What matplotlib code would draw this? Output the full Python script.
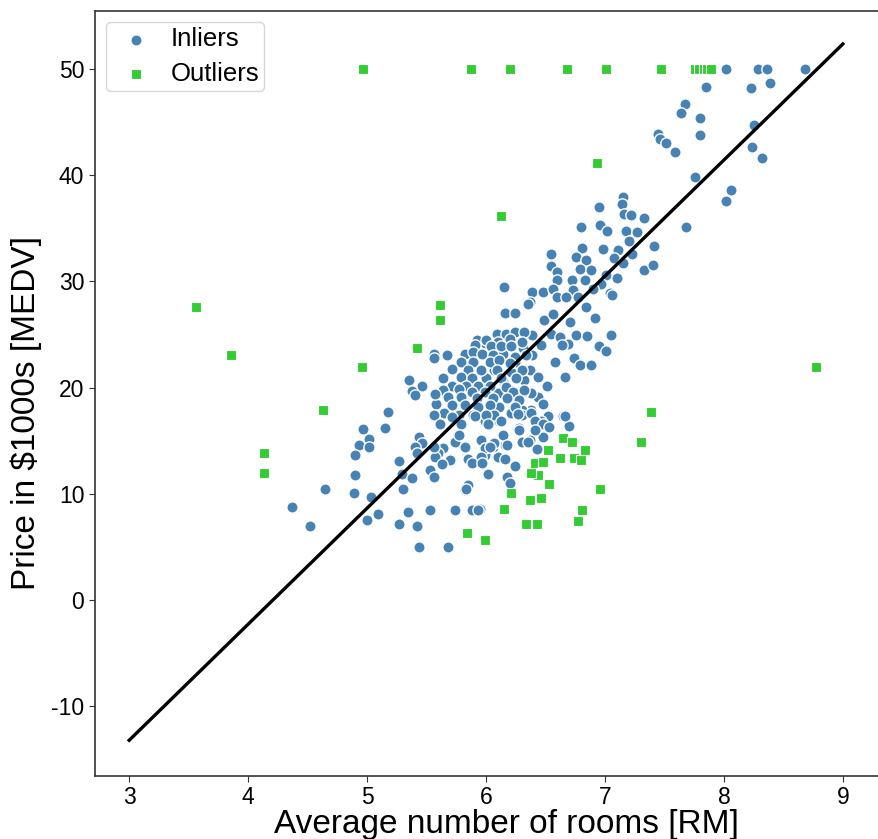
import numpy as np
import matplotlib.pyplot as plt

plt.rcParams['font.family'] = ['Liberation Sans', 'DejaVu Sans']
plt.rcParams['axes.unicode_minus'] = False

# inliers (RM, MEDV)
inlier_rm = [
    8.02, 8.29, 8.36, 8.68, 7.85, 8.23, 8.39, 7.67, 7.64, 7.80, 7.80, 8.25, 7.45, 7.46, 7.51, 7.59, 8.24, 8.32, 7.76, 8.06, 8.02,
    7.15, 7.14, 6.95, 7.16, 7.22, 7.33, 7.68, 6.80, 6.96, 7.02, 7.18, 7.27, 7.20, 6.81, 6.98, 7.11, 7.23, 7.41, 6.55, 6.76,
    6.84, 7.08, 7.15, 6.55, 6.60, 6.79, 6.88, 7.33, 7.40, 6.72, 6.83, 6.60, 7.01, 7.10, 6.97, 6.15, 6.39, 6.48, 6.56, 6.73,
    6.90, 7.04, 7.06, 6.37, 6.60, 6.67, 6.77, 6.84, 6.16, 6.24, 6.49, 6.56, 6.71, 6.92, 6.76, 6.85, 7.05, 6.39, 6.55, 6.62,
    6.69, 6.95, 7.01, 6.64, 6.46, 6.74, 6.79, 6.88, 6.58, 6.66, 6.51, 6.44, 6.38, 6.31, 6.21, 6.38, 6.48, 6.52, 6.46, 6.65,
    6.70, 6.28, 6.37, 6.48, 6.43, 6.16, 6.24, 6.18, 6.02, 5.99, 6.10, 5.96, 6.06, 6.14, 6.11, 5.99, 6.21, 6.30, 6.11, 6.21,
    6.10, 5.99, 6.32, 6.14, 6.21, 6.37, 6.07, 6.00, 6.24, 6.39, 6.31, 6.10, 5.99, 6.14, 6.21, 6.09, 5.95, 6.44,
    6.35, 6.17, 6.24, 6.32, 5.92, 6.00, 6.10, 6.20, 6.30, 5.91, 6.04, 6.13, 6.21, 5.56, 5.56, 5.67, 5.82, 5.89, 5.97, 6.06,
    6.24, 6.34, 5.79, 5.89, 6.03, 6.11, 6.20, 5.71, 5.85, 5.96, 6.09, 6.30, 5.64, 5.79, 5.88, 6.13, 6.25, 5.71, 5.83, 5.93,
    6.03, 6.17, 5.46, 5.64, 5.77, 5.88, 5.99, 6.23, 6.32, 5.68, 5.79, 5.92, 6.06, 6.18, 6.28, 5.58, 5.71, 5.82, 5.93, 6.03,
    6.24, 5.65, 5.77, 5.89, 6.07, 6.30,
    5.56, 5.71, 5.61, 5.79, 5.91, 6.00, 6.13, 6.02, 6.27, 6.38, 6.41, 6.48, 6.53, 6.66, 6.28, 6.41, 6.07, 6.18, 6.30, 6.35,
    5.74, 5.77, 5.44, 5.46, 5.64, 5.82, 5.99, 6.03, 5.60, 5.57, 5.70, 5.85, 5.96, 6.16, 5.88, 5.97, 5.63, 5.53, 5.56, 6.20,
    5.85, 5.82,
    5.35, 5.38, 5.40, 5.57, 5.18, 4.97, 5.15, 5.02, 4.93, 5.02, 5.40, 4.90, 5.42, 5.56, 5.27, 4.90, 5.29, 5.38, 4.65, 4.89,
    5.30, 5.03, 4.37, 5.53, 5.34, 5.09, 5.00, 5.27, 5.42, 4.52, 5.44, 5.68, 5.74, 5.88, 5.93, 5.83,
]
inlier_medv = [
    50.0, 50.0, 50.0, 50.0, 48.3, 48.2, 48.7, 46.7, 45.9, 45.4, 43.8, 44.7, 43.9, 43.4, 43.0, 42.2, 42.7, 41.6, 39.8, 38.6, 37.6,
    38.0, 37.3, 37.0, 36.4, 36.3, 36.0, 35.1, 35.1, 35.3, 34.8, 34.8, 34.7, 33.8, 33.2, 33.1, 33.0, 32.6, 33.3, 32.6, 32.3,
    32.0, 32.2, 31.7, 31.5, 30.9, 31.2, 31.1, 31.1, 31.6, 30.1, 30.1, 30.1, 30.6, 30.3, 29.8, 29.5, 29.0, 29.0, 29.3, 29.2,
    29.3, 28.9, 28.7, 28.1, 28.5, 28.5, 28.5, 27.6, 27.0, 27.0, 26.4, 26.9, 26.2, 26.6, 25.0, 24.9, 25.0, 25.0, 25.1, 24.8,
    24.1, 23.9, 23.5, 24.0, 24.0, 22.8, 22.1, 22.1, 22.4, 21.0, 20.2, 19.1, 19.5, 19.6, 19.8, 17.9, 18.5, 17.3, 16.9, 17.3,
    16.4, 16.2, 15.1, 15.4, 14.2, 14.6, 12.6, 11.6, 11.9, 13.7, 13.5, 15.1, 14.4, 15.5, 16.9, 16.9, 17.6, 17.9, 18.2, 19.1,
    19.5, 20.1, 20.7, 20.6, 21.5, 21.7, 21.7, 20.9, 22.4, 23.1, 23.7, 24.2, 24.2, 23.2, 24.8, 25.1, 8.6, 21.0,
    27.9, 25.1, 25.2, 25.2, 24.5, 24.5, 24.3, 24.6, 24.3, 24.0, 23.9, 23.9, 23.9, 23.2, 22.8, 23.1, 23.2, 23.4, 23.2, 23.1,
    22.9, 23.1, 22.4, 22.4, 22.4, 22.6, 22.3, 21.8, 21.7, 21.7, 21.7, 21.7, 20.9, 21.0, 20.9, 20.9, 20.9, 20.2, 20.2, 20.2,
    20.2, 20.1, 20.2, 19.8, 19.9, 19.6, 19.6, 19.6, 19.8, 19.1, 19.1, 19.0, 19.0, 19.0, 18.8, 18.5, 18.4, 18.4, 18.2, 18.4,
    18.2, 17.6, 17.4, 17.4, 17.4, 17.4,
    17.4, 17.2, 16.6, 16.6, 17.3, 17.4, 16.9, 16.6, 17.5, 17.6, 16.9, 16.6, 16.3, 17.3, 16.0, 16.0, 14.8, 14.6, 14.9, 14.9,
    14.9, 15.5, 15.4, 14.8, 14.3, 14.4, 14.3, 14.4, 13.8, 13.5, 13.2, 13.3, 13.5, 13.3, 12.9, 12.9, 12.8, 12.2, 11.6, 11.0,
    10.8, 10.4,
    20.7, 19.7, 19.3, 19.4, 17.7, 16.1, 16.2, 15.2, 14.6, 14.4, 14.4, 13.7, 13.8, 14.4, 13.1, 11.8, 11.9, 11.5, 10.5, 10.1,
    10.5, 9.7, 8.8, 8.5, 8.3, 8.1, 7.5, 7.2, 7.0, 7.0, 5.0, 5.0, 8.5, 8.5, 8.5, 10.5,
]

# outliers
outlier_rm = [4.97, 5.87, 6.20, 6.68, 7.01, 7.47, 7.76, 7.79, 7.83, 7.86, 7.89,
              3.56, 3.86, 4.13, 4.13, 4.63, 4.96, 5.42, 5.61, 5.61, 5.84, 5.99,
              6.13, 6.93, 8.77, 7.39, 7.30, 6.96, 6.81, 6.77,
              6.15, 6.21, 6.34, 6.43, 6.37, 6.46, 6.53, 6.44, 6.38, 6.41, 6.48, 6.52,
              6.62, 6.65, 6.72, 6.74, 6.80, 6.83]
outlier_medv = [50.0, 50.0, 50.0, 50.0, 50.0, 50.0, 50.0, 50.0, 50.0, 50.0, 50.0,
                27.6, 23.1, 13.8, 12.0, 17.9, 21.9, 23.7, 27.8, 26.4, 6.3, 5.65,
                36.2, 41.2, 21.9, 17.7, 14.9, 10.45, 8.5, 7.47,
                8.6, 10.1, 7.16, 7.16, 9.4, 9.6, 10.95, 11.8, 12.0, 12.9, 13.0, 14.1,
                13.4, 15.3, 14.9, 13.4, 13.2, 14.1]

# RANSAC fitted line
slope = 10.93
intercept = -46.0
line_x = np.arange(3, 10, 1)

fig = plt.figure(figsize=(8.79, 8.39), dpi=100)
ax = fig.add_axes([0.1077, 0.0754, 0.8945, 0.9118])

ax.scatter(inlier_rm, inlier_medv, c='steelblue', edgecolor='white', linewidths=1.0,
           marker='o', s=66, label='Inliers')
ax.scatter(outlier_rm, outlier_medv, c='limegreen', edgecolor='white', linewidths=0.8,
           marker='s', s=50, label='Outliers')
ax.plot(line_x, slope * line_x + intercept, color='black', lw=2.4)

ax.set_xlim(2.71, 9.32)
ax.set_ylim(-16.55, 55.5)
ax.set_xticks(range(3, 10))
ax.set_yticks(range(-10, 51, 10))
ax.tick_params(labelsize=16.5, length=4, color='#333333')
for sp in ax.spines.values():
    sp.set_color('#333333')
    sp.set_linewidth(1.2)

ax.set_xlabel('Average number of rooms [RM]', fontsize=24)
ax.set_ylabel('Price in $1000s [MEDV]', fontsize=24)
# labels sit off-centre in the original
ax.xaxis.set_label_coords(0.524, -0.043)
ax.yaxis.set_label_coords(-0.067, 0.474)
ax.legend(loc='upper left', fontsize=18.5, handletextpad=0.4, handlelength=1.9,
          borderpad=0.2, labelspacing=0.42, borderaxespad=0.45)

fig.savefig('out.png', dpi=100)
